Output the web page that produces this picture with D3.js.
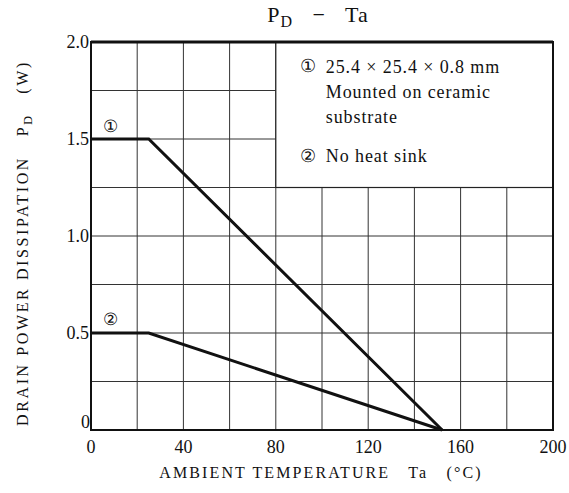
<!DOCTYPE html>
<html>
<head>
<meta charset="utf-8">
<script src="https://cdn.jsdelivr.net/npm/d3@7"></script>
<style>
  body { margin: 0; background: #fff; }
  text { font-family: "Liberation Serif", "DejaVu Serif", serif; fill: #111; }
</style>
</head>
<body>
<div id="chart"></div>
<script>
// curve data (Ta in degC, PD in W)
const curve1 = [{t: 0, p: 1.5}, {t: 25, p: 1.5}, {t: 152, p: 0}];
const curve2 = [{t: 0, p: 0.5}, {t: 25, p: 0.5}, {t: 152, p: 0}];
const xTicks = [0, 40, 80, 120, 160, 200];
const yTicks = [0, 0.5, 1.0, 1.5, 2.0];
const xGrid = d3.range(0, 201, 20);
const yGrid = d3.range(0, 2.01, 0.25);
const legendLines = ["25.4 \u00d7 25.4 \u00d7 0.8 mm", "Mounted on ceramic", "substrate"];

const width = 569, height = 493;
const margin = {top: 42, right: 16, bottom: 63, left: 91};
const w = width - margin.left - margin.right;
const h = height - margin.top - margin.bottom;

const svg = d3.select("#chart").append("svg")
    .attr("width", width)
    .attr("height", height);

const g = svg.append("g")
    .attr("transform", `translate(${margin.left},${margin.top})`);

const x = d3.scaleLinear().domain([0, 200]).range([0, w]);
const y = d3.scaleLinear().domain([0, 2]).range([h, 0]);

// grid
g.selectAll(".vgrid")
    .data(xGrid)
    .enter()
    .append("line")
    .attr("x1", d => x(d)).attr("x2", d => x(d))
    .attr("y1", 0).attr("y2", h)
    .attr("stroke", "#333").attr("stroke-width", 1);

g.selectAll(".hgrid")
    .data(yGrid)
    .enter()
    .append("line")
    .attr("x1", 0).attr("x2", w)
    .attr("y1", d => y(d)).attr("y2", d => y(d))
    .attr("stroke", "#333").attr("stroke-width", 1);

// legend box covers the grid in the upper right
g.append("rect")
    .attr("x", x(80)).attr("y", y(2))
    .attr("width", x(200) - x(80)).attr("height", y(1.25) - y(2))
    .attr("fill", "#fff").attr("stroke", "#222").attr("stroke-width", 1.2);

// frame
g.append("rect")
    .attr("x", 0).attr("y", 0)
    .attr("width", w).attr("height", h)
    .attr("fill", "none").attr("stroke", "#111").attr("stroke-width", 2);
g.append("line")
    .attr("x1", 0).attr("x2", w).attr("y1", 0).attr("y2", 0)
    .attr("stroke", "#111").attr("stroke-width", 3);

// curves
const line = d3.line().x(d => x(d.t)).y(d => y(d.p));
[curve1, curve2].forEach(c => {
    g.append("path")
        .datum(c)
        .attr("fill", "none")
        .attr("stroke", "#111")
        .attr("stroke-width", 3)
        .attr("d", line);
});

// circled curve labels
g.append("text").attr("x", x(8.5)).attr("y", y(1.5) - 7)
    .attr("text-anchor", "middle").attr("font-size", 17).text("\u2460");
g.append("text").attr("x", x(8.5)).attr("y", y(0.5) - 8)
    .attr("text-anchor", "middle").attr("font-size", 17).text("\u2461");

// legend text
const lg = g.append("g").attr("font-size", 18).attr("letter-spacing", 0.9);
lg.append("text").attr("x", x(80) + 33).attr("y", 30).attr("text-anchor", "middle").text("\u2460");
lg.append("text").attr("x", x(80) + 33).attr("y", 120).attr("text-anchor", "middle").text("\u2461");
lg.selectAll(".lt")
    .data(legendLines)
    .enter()
    .append("text")
    .attr("x", x(80) + 50)
    .attr("y", (d, i) => 31 + i * 25)
    .text(d => d);
lg.append("text").attr("x", x(80) + 50).attr("y", 120).text("No heat sink");

// tick labels
g.selectAll(".xt")
    .data(xTicks)
    .enter()
    .append("text")
    .attr("x", d => x(d)).attr("y", h + 23)
    .attr("text-anchor", "middle").attr("font-size", 18)
    .text(d => d);

g.selectAll(".yt")
    .data(yTicks)
    .enter()
    .append("text")
    .attr("x", d => d === 0 ? -1 : -2)
    .attr("y", d => d === 0 ? y(d) - 2 : y(d) + 6)
    .attr("text-anchor", "end").attr("font-size", 18)
    .text(d => d === 0 ? "0" : d.toFixed(1));

// title
const title = svg.append("text")
    .attr("x", 318).attr("y", 22)
    .attr("text-anchor", "middle").attr("font-size", 22)
    .attr("letter-spacing", 1)
    .attr("xml:space", "preserve");
title.append("tspan").text("P");
title.append("tspan").attr("font-size", 16).attr("dy", 5).text("D");
title.append("tspan").attr("dy", -5).text("   \u2212   Ta");

// x axis title
svg.append("text")
    .attr("x", 321).attr("y", 478)
    .attr("text-anchor", "middle").attr("font-size", 16)
    .attr("letter-spacing", 2.1)
    .attr("xml:space", "preserve")
    .text("AMBIENT TEMPERATURE   Ta   (\u00b0C)");

// y axis title
const yt = svg.append("text")
    .attr("transform", `translate(28,243) rotate(-90)`)
    .attr("text-anchor", "middle").attr("font-size", 16)
    .attr("letter-spacing", 2.6)
    .attr("xml:space", "preserve");
yt.append("tspan").text("DRAIN POWER DISSIPATION   P");
yt.append("tspan").attr("font-size", 12).attr("dy", 4).text("D");
yt.append("tspan").attr("dy", -4).text("   (W)");
</script>
</body>
</html>
